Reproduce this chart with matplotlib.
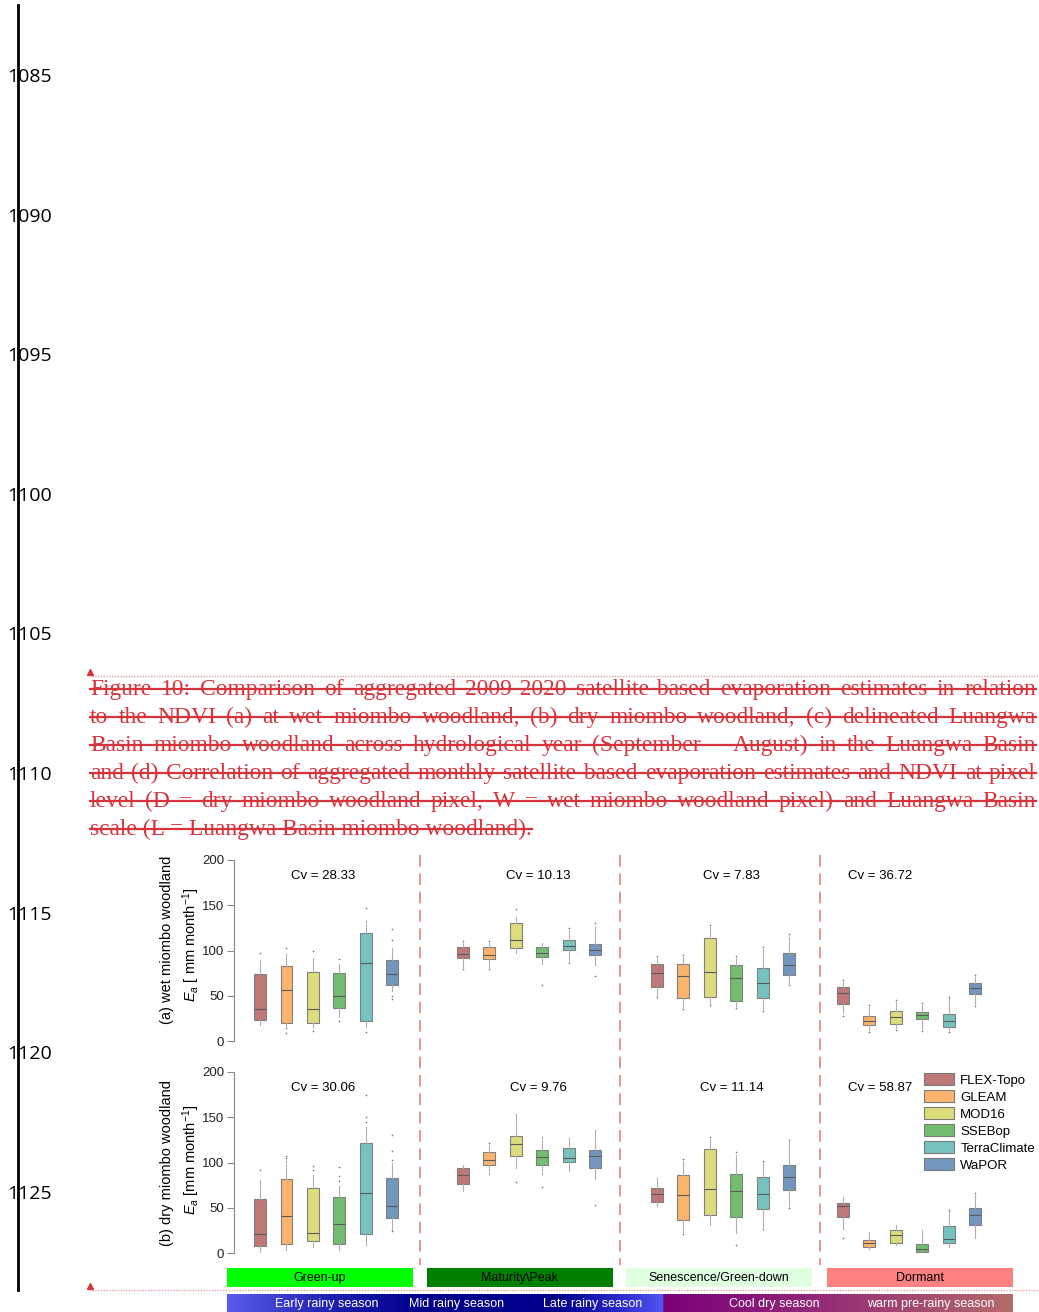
import numpy as np
import matplotlib
matplotlib.use("Agg")
import matplotlib.pyplot as plt
from matplotlib.patches import Patch, Rectangle
from matplotlib.colors import LinearSegmentedColormap
from matplotlib import transforms

plt.rcParams['font.family'] = ['Liberation Sans', 'DejaVu Sans']
plt.rcParams['mathtext.fontset'] = 'custom'
plt.rcParams['mathtext.rm'] = 'Liberation Sans'
plt.rcParams['mathtext.it'] = 'Liberation Sans:italic'

# ---- data ----
line_numbers = [1085, 1090, 1095, 1100, 1105, 1110, 1115, 1120, 1125]

caption_lines = [
    "Figure 10: Comparison of aggregated 2009-2020 satellite-based evaporation estimates in relation",
    "to the NDVI (a) at wet miombo woodland, (b) dry miombo woodland, (c) delineated Luangwa",
    "Basin miombo woodland across hydrological year (September \u2013 August) in the Luangwa Basin",
    "and (d) Correlation of aggregated monthly satellite-based evaporation estimates and NDVI at pixel",
    "level  (D = dry miombo woodland pixel, W = wet miombo woodland pixel) and Luangwa Basin",
    "scale (L = Luangwa Basin miombo woodland).",
]

products = ['FLEX-Topo', 'GLEAM', 'MOD16', 'SSEBop', 'TerraClimate', 'WaPOR']
prod_colors = ['#bf7878', '#fbb46e', '#dcdc7c', '#74bc70', '#76c2be', '#7396bf']

phases = ['Green-up', 'Maturity\\Peak', 'Senescence/Green-down', 'Dormant']
phase_colors = ['#00ff00', '#008000', '#e0ffe0', '#ff8080']
seasons = ['Early rainy season', 'Mid rainy season', 'Late rainy season',
           'Cool dry season', 'warm pre-rainy season']

cv_a = ['28.33', '10.13', '7.83', '36.72']
cv_b = ['30.06', '9.76', '11.14', '58.87']

# panel (a) wet miombo woodland, rows = phase, cols = product
a_whislo = [[18, 17, 15, 27, 15, 55],
            [82, 82, 97.5, 85, 88, 84],
            [51, 38, 42, 39, 35, 64],
            [31, 12, 14, 13, 12, 41]]
a_q1 = [[23, 20, 20, 37, 22, 62],
        [92, 91, 103, 93, 101, 95],
        [60, 48, 49, 44.5, 48, 73],
        [41, 18, 19, 24, 16, 52]]
a_med = [[35, 56, 35, 50, 86, 74],
         [96, 95.5, 111.6, 97, 105, 101],
         [75, 72, 76, 70, 64, 84],
         [53, 22.5, 26, 29, 22.5, 59]]
a_q3 = [[74, 83, 76, 75, 119, 90],
        [103.5, 103.5, 130, 103.5, 112, 107],
        [85, 85, 114, 84, 81, 97],
        [60, 28, 33.5, 32, 30, 64]]
a_whishi = [[90, 96, 92, 85, 133, 103],
            [108, 108, 137, 108, 122, 126],
            [92, 93, 126, 92, 102, 115],
            [65, 38, 43, 40, 47, 71]]
a_fliers = [[[97], [103, 14, 9], [99, 11], [91, 22], [147, 10], [124, 112, 50, 46]],
            [[110, 80], [110, 80], [146], [62], [125, 86], [130, 72]],
            [[94, 49], [95, 35], [128, 40], [94, 37], [104, 33], [118, 62]],
            [[67, 28], [40, 10], [45, 12], [42, 11], [49, 10], [73, 39]]]

# panel (b) dry miombo woodland
b_whislo = [[1, 3, 6.6, 3, 9, 25],
            [69, 87, 94, 87.7, 91, 82],
            [51.6, 23, 30.6, 22, 28.7, 52],
            [27, 4.8, 9, 0, 6.6, 16.6]]
b_q1 = [[7.4, 9.6, 13, 10.3, 21, 38.7],
        [76.7, 97, 107, 97, 100.5, 94],
        [56, 36, 42, 40, 49, 70],
        [39.8, 6.6, 11.5, 1, 11, 31.4]]
b_med = [[20.7, 40.5, 22, 31.7, 66, 51.6],
         [86, 103, 120, 106, 105, 107],
         [65.6, 63.8, 71, 68, 65.6, 84],
         [51.6, 11, 20.3, 4, 16, 41.6]]
b_q3 = [[60, 82, 72, 62, 122, 83],
        [94, 112, 129.7, 113.5, 116, 114],
        [72, 86, 115, 87, 84, 97],
        [55.7, 14, 25, 10.3, 30, 50]]
b_whishi = [[81, 102, 86.6, 73.7, 139, 99],
            [97, 119, 154, 128, 127.5, 136],
            [83, 102, 125.6, 108.7, 100.5, 123],
            [62, 23, 31, 25, 46, 63.8]]
b_fliers = [[[92], [107, 105], [96, 92], [95, 85, 80], [175, 150, 145], [130, 113, 103, 24]],
            [[], [121], [78], [73], [], [53]],
            [[], [104, 21], [128], [112, 9], [102, 27], [125, 50]],
            [[17], [], [], [], [48], [66]]]

group_start = [0, 7.66, 14.98, 22.0]
dividers = [6.04, 13.58, 21.13]
cv_x = [2.4, 10.5, 17.8, 23.4]

W, H = 1039, 1312
fig = plt.figure(figsize=(W / 100, H / 100), dpi=100)
fig.patch.set_facecolor('white')

# page layer in pixel coordinates
page = fig.add_axes([0, 0, 1, 1])
page.set_xlim(0, W)
page.set_ylim(H, 0)
page.axis('off')

red = '#d6343c'

# line numbers and margin line
for i, n in enumerate(line_numbers):
    page.text(7, 77 + i * 139.6, str(n), fontsize=14, family=['Open Sans', 'DejaVu Sans'],
              ha='left', va='center', color='black')
page.plot([18, 18], [5, 1290], color='black', lw=2, zorder=5)

# dotted revision lines with markers
for yy in [676, 1290]:
    page.plot([92, W], [yy, yy], ls=(0, (1, 1)), color='#e6a0a0', lw=1)
    page.plot(90, yy - 4, marker='^', color=red, ms=4)

# justified caption with strike-through
r = fig.canvas.get_renderer()


def text_w(s, fs):
    t = page.text(0, 0, s, fontsize=fs, family='Liberation Serif')
    w = t.get_window_extent(r).width
    t.remove()
    return w


x0, x1 = 90, 1036
widest = max(text_w(l, 14) for l in caption_lines[:-1])
fs = 14 * (x1 - x0) * 0.985 / widest
em = fs * 100 / 72
for i, line in enumerate(caption_lines):
    base = 695 + i * 28
    if i < len(caption_lines) - 1:
        words = line.split()
        ws = [text_w(w, fs) for w in words]
        gap = (x1 - x0 - sum(ws)) / (len(words) - 1)
        xx = x0
        for w, wd in zip(words, ws):
            page.text(xx, base, w, fontsize=fs, family='Liberation Serif', color=red,
                      ha='left', va='baseline')
            xx += wd + gap
        xend = x1
    else:
        page.text(x0, base, line, fontsize=fs, family='Liberation Serif', color=red,
                  ha='left', va='baseline')
        xend = x0 + text_w(line, fs)
    page.plot([x0, xend], [base - 0.27 * em, base - 0.27 * em], color=red, lw=1.6)

# phase bars
phase_x = [227, 427, 626, 827]
for px, name, c in zip(phase_x, phases, phase_colors):
    page.add_patch(Rectangle((px, 1268), 186, 19, facecolor=c, edgecolor='none'))
    page.text(px + 93, 1278, name, fontsize=9, ha='center', va='center', color='black')

# season gradient bar
season_cmap = LinearSegmentedColormap.from_list('season', [
    (0.0, '#5a5aea'), (0.13, '#2020b0'), (0.24, '#00008c'), (0.42, '#00008c'),
    (0.50, '#2a2ad0'), (0.553, '#5252f0'), (0.556, '#7a007a'), (0.72, '#8e2278'),
    (1.0, '#b46a6a')])
grad = np.linspace(0, 1, 600)[None, :]
page.imshow(grad, cmap=season_cmap, extent=(227, 1013, 1312, 1294), aspect='auto',
            interpolation='bilinear')
page.set_xlim(0, W)
page.set_ylim(H, 0)
season_x = [327, 457, 593, 774, 931]
for sx, s in zip(season_x, seasons):
    page.text(sx, 1303.5, s, fontsize=9, ha='center', va='center', color='white')

# y labels
page.text(167, 940, '(a) wet miombo woodland', rotation=90, fontsize=10.5,
          ha='center', va='center')
page.text(191, 945, '$E_a$ [ mm month$^{-1}$]', rotation=90, fontsize=10.5,
          ha='center', va='center')
page.text(167, 1163, '(b) dry miombo woodland', rotation=90, fontsize=10.5,
          ha='center', va='center')
page.text(191, 1160, '$E_a$ [mm month$^{-1}$]', rotation=90, fontsize=10.5,
          ha='center', va='center')


def panel(ax, lo, q1, med, q3, hi, fl, cvs):
    for g in range(4):
        st = []
        for k in range(6):
            st.append(dict(whislo=lo[g][k], q1=q1[g][k], med=med[g][k], q3=q3[g][k],
                           whishi=hi[g][k], fliers=fl[g][k]))
        pos = [group_start[g] + k for k in range(6)]
        bp = ax.bxp(st, positions=pos, widths=0.45, patch_artist=True, showcaps=False,
                    boxprops=dict(edgecolor='#808080', linewidth=0.8),
                    whiskerprops=dict(color='#b0b0b0', linewidth=0.8),
                    medianprops=dict(color='#5a5a5a', linewidth=0.8),
                    flierprops=dict(marker='o', markersize=1.2, markerfacecolor='#777777',
                                    markeredgecolor='none'))
        for patch, c in zip(bp['boxes'], prod_colors):
            patch.set_facecolor(c)
        ax.text(cv_x[g], 182, 'Cv = ' + cvs[g], fontsize=9.5, ha='center', va='center')
    ax.set_xlim(-0.98, 29.4)
    ax.set_ylim(0, 200)
    ax.set_yticks([0, 50, 100, 150, 200])
    ax.set_xticks([])
    ax.patch.set_alpha(0)
    for s in ['top', 'right', 'bottom']:
        ax.spines[s].set_visible(False)
    ax.spines['left'].set_color('#8a8a8a')
    ax.tick_params(axis='y', length=5, color='#8a8a8a', labelsize=9.5, labelcolor='#222222',
                   pad=2)


axA = fig.add_axes([234 / W, 1 - 1041 / H, (W - 234) / W, 181 / H])
axB = fig.add_axes([234 / W, 1 - 1253 / H, (W - 234) / W, 181 / H])
panel(axA, a_whislo, a_q1, a_med, a_q3, a_whishi, a_fliers, cv_a)
panel(axB, b_whislo, b_q1, b_med, b_q3, b_whishi, b_fliers, cv_b)

# dashed season dividers spanning both panels
tr = transforms.blended_transform_factory(axA.transData, page.transData)
for d in dividers:
    page.plot([d, d], [855, 1265], transform=tr, color='#e88080', lw=1.2,
              dashes=(7, 4), clip_on=False)

handles = [Patch(facecolor=c, edgecolor='#7a7a7a', linewidth=0.8) for c in prod_colors]
axB.legend(handles, products, loc='upper left', bbox_to_anchor=(924 / W, 1 - 1073 / H),
           bbox_transform=fig.transFigure, frameon=False, fontsize=9.5,
           handlelength=2.3, handleheight=1.05, labelspacing=0.26, handletextpad=0.45,
           borderpad=0, borderaxespad=0)

fig.savefig('out.png', dpi=100)
